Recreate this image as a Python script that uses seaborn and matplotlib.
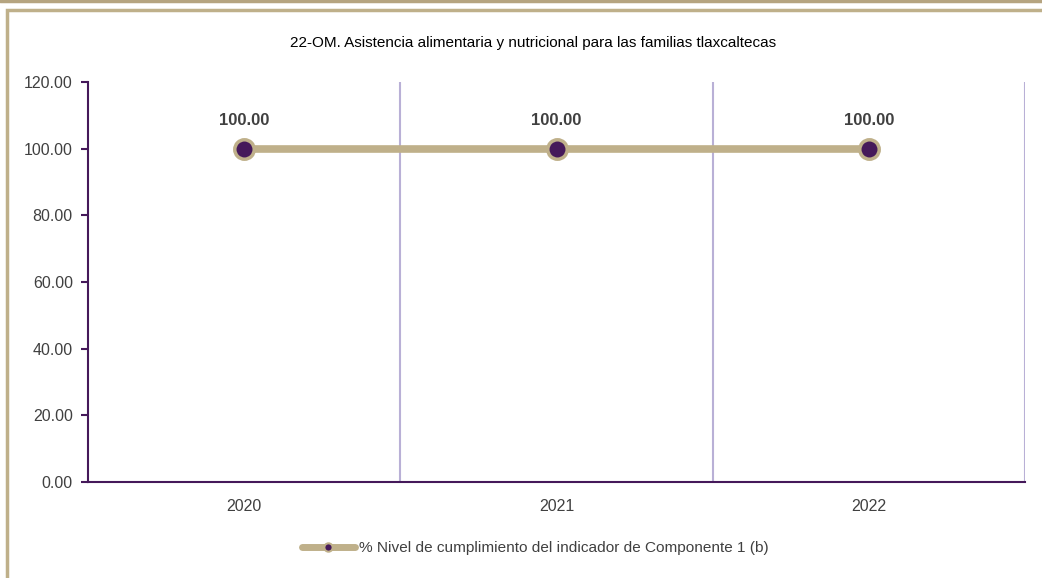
import pandas as pd
import seaborn as sns
import matplotlib.pyplot as plt
from matplotlib.patches import Rectangle
from matplotlib.lines import Line2D

# datos del indicador
years = ["2020", "2021", "2022"]
values = [100.00, 100.00, 100.00]
serie = "% Nivel de cumplimiento del indicador de Componente 1 (b)"
titulo = "22-OM. Asistencia alimentaria y nutricional para las familias tlaxcaltecas"

df = pd.DataFrame({"Año": years, "Valor": values})

tan = "#bfb08a"
morado = "#45195a"
lila = "#b9b0d6"
gris = "#404040"

sns.set_style("white")
plt.rcParams["font.family"] = ["Liberation Sans", "DejaVu Sans"]

fig = plt.figure(figsize=(10.42, 5.78), dpi=100)
ax = fig.add_axes([0.0845, 0.166, 0.8992, 0.692])

sns.pointplot(data=df, x="Año", y="Valor", color=tan, linewidth=5.5,
              markers="o", markersize=14, markerfacecolor=morado,
              markeredgecolor=tan, markeredgewidth=2.5, ax=ax, zorder=5)

for i, v in enumerate(values):
    ax.annotate(f"{v:.2f}", (i, v), xytext=(0, 15), textcoords="offset points",
                ha="center", va="bottom", fontsize=12, fontweight="bold", color=gris)

ax.set_xlim(-0.5, 2.5)
ax.set_ylim(0, 120)
ax.set_yticks(range(0, 121, 20))
ax.set_yticklabels([f"{t:.2f}" for t in range(0, 121, 20)], fontsize=11.5, color=gris)
ax.tick_params(axis="x", length=0, labelsize=11.5, labelcolor=gris, pad=12)
ax.tick_params(axis="y", left=True, length=5, width=1.5, color=morado, pad=6)
ax.set_xticks([0.5, 1.5, 2.5], minor=True)
ax.grid(True, which="minor", axis="x", color=lila, linewidth=1.5)
ax.grid(False, which="major")
ax.set_xlabel("")
ax.set_ylabel("")

for s in ["top", "right"]:
    ax.spines[s].set_visible(False)
for s in ["left", "bottom"]:
    ax.spines[s].set_color(morado)
    ax.spines[s].set_linewidth(1.5)

fig.text(0.512, 0.925, titulo, ha="center", va="center", fontsize=11, color="black")

handle = Line2D([], [], color=tan, linewidth=5, marker="o", markersize=6,
                markerfacecolor=morado, markeredgecolor=tan, markeredgewidth=1.5)
fig.legend([handle], [serie], loc="center", bbox_to_anchor=(0.514, 0.052),
           frameon=False, fontsize=11.1, handlelength=3.4, handletextpad=0.3,
           labelcolor=gris)

# marco del gráfico
fig.add_artist(Rectangle((7 / 1042, -0.1), 1.1, 1 - 10 / 578 + 0.1,
                         transform=fig.transFigure, fill=False,
                         edgecolor=tan, linewidth=2.5, clip_on=False))
fig.add_artist(Line2D([0, 1], [1 - 1 / 578, 1 - 1 / 578], transform=fig.transFigure,
                      color="#b5a480", linewidth=2.5))

fig.savefig("out.png", dpi=100)
